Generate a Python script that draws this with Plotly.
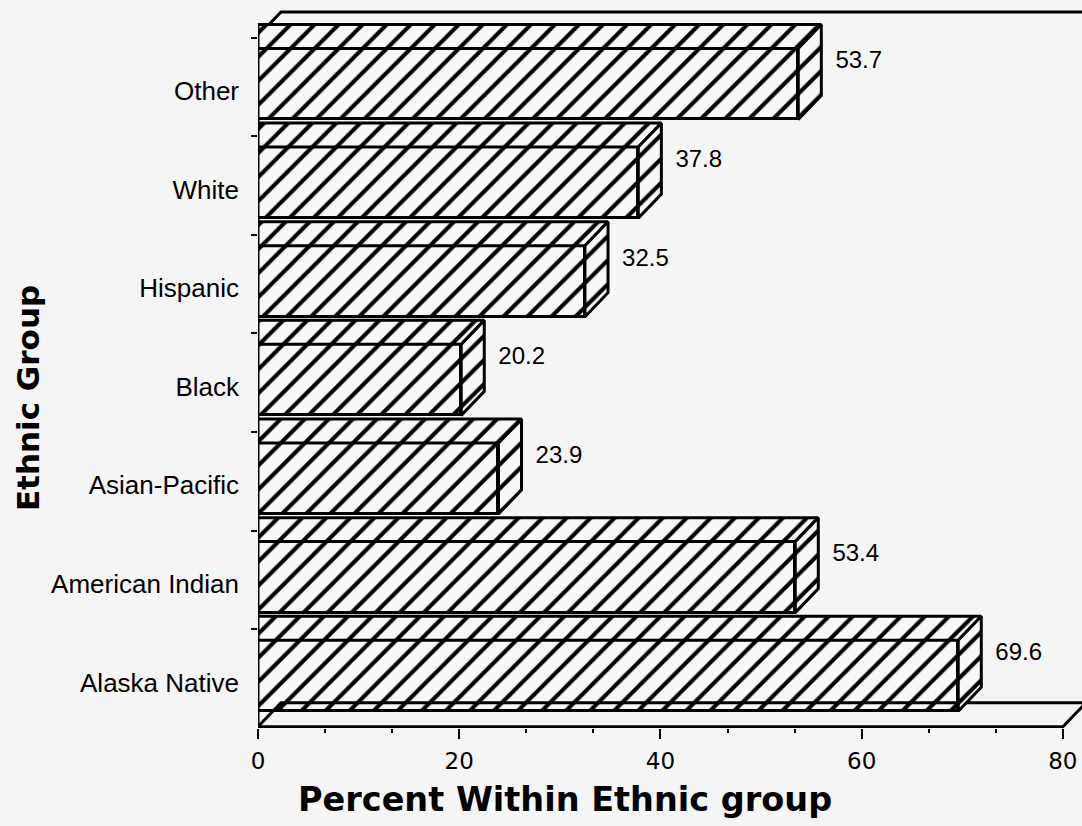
import plotly.graph_objects as go

# ---- data (bottom to top) ----
categories = ["Alaska Native", "American Indian", "Asian-Pacific", "Black",
              "Hispanic", "White", "Other"]
values = [69.6, 53.4, 23.9, 20.2, 32.5, 37.8, 53.7]
value_labels = ["69.6", "53.4", "23.9", "20.2", "32.5", "37.8", "53.7"]
x_ticks = [0, 20, 40, 60, 80]

# ---- styling / geometry ----
positions = list(range(len(categories)))
half = 0.36          # half bar thickness (category units)
dx = 2.29            # 3D depth, x (data units)
dy = 0.243           # 3D depth, y (category units)
y_floor = -0.517
y_top = 6.73
x_max = 81.9
paper_bg = "#f5f5f5"
face_bg = "#f8f8f8"
ink = "#000000"
pat = dict(shape="/", fgcolor=ink, fgopacity=1, bgcolor=face_bg, size=17, solidity=0.24)

fig = go.Figure()

# frame: left wall + top edge, floor
fig.add_trace(go.Scatter(
    x=[0, 0, dx, x_max + 5],
    y=[y_floor, y_top - dy, y_top, y_top],
    mode="lines", line=dict(color=ink, width=3),
    hoverinfo="skip", showlegend=False))
fig.add_trace(go.Scatter(
    x=[0, x_ticks[-1], x_ticks[-1] + dx, dx, 0],
    y=[y_floor, y_floor, y_floor + dy, y_floor + dy, y_floor],
    mode="lines", line=dict(color=ink, width=3),
    hoverinfo="skip", showlegend=False))

# 3D faces (top and side) for each bar, far (top) to near (bottom)
for p, v in sorted(zip(positions, values), reverse=True):
    top = p + half
    bot = p - half
    fig.add_trace(go.Scatter(
        x=[0, v, v + dx, 0, 0],
        y=[top, top, top + dy, top + dy, top],
        mode="lines", fill="toself", fillcolor=face_bg, fillpattern=pat,
        line=dict(color=ink, width=3), hoverinfo="skip", showlegend=False))
    fig.add_trace(go.Scatter(
        x=[v, v + dx, v + dx, v, v],
        y=[top, top + dy, bot + dy, bot, top],
        mode="lines", fill="toself", fillcolor=face_bg, fillpattern=pat,
        line=dict(color=ink, width=3), hoverinfo="skip", showlegend=False))

# value labels
fig.add_trace(go.Scatter(
    x=[v + dx + 1.4 for v in values],
    y=[p + 0.22 for p in positions],
    text=value_labels, mode="text", textposition="middle right",
    textfont=dict(family="Liberation Sans, Arial", size=24, color=ink),
    hoverinfo="skip", showlegend=False, cliponaxis=False))

# front faces
fig.add_trace(go.Bar(
    x=values, y=positions, orientation="h", width=2 * half,
    marker=dict(color=face_bg, line=dict(color=ink, width=3), pattern=pat),
    hoverinfo="skip", showlegend=False))

fig.update_layout(
    width=1082, height=826,
    margin=dict(l=258, r=0, t=9, b=98),
    paper_bgcolor=paper_bg, plot_bgcolor=paper_bg,
    bargap=0,
    xaxis=dict(
        range=[0, x_max], tickvals=x_ticks, ticktext=[str(t) for t in x_ticks],
        showgrid=False, zeroline=False, showline=False,
        ticks="outside", ticklen=10, tickwidth=2, tickcolor=ink,
        minor=dict(dtick=20 / 3, tick0=0, ticks="outside", ticklen=4,
                   tickwidth=2, tickcolor=ink, showgrid=False),
        tickfont=dict(family="DejaVu Sans", size=23, color=ink),
        ticklabelstandoff=2,
    ),
    yaxis=dict(
        range=[-0.53, 6.76],
        tickvals=[p - 0.07 for p in positions], ticktext=categories,
        showgrid=False, zeroline=False, showline=False, ticks="",
        minor=dict(tickmode="array", tickvals=[p + 0.47 for p in positions],
                   ticks="outside", ticklen=6, tickwidth=2, tickcolor=ink,
                   showgrid=False),
        tickfont=dict(family="Liberation Sans, Arial", size=26, color=ink),
        ticklabelstandoff=18,
    ),
    annotations=[
        dict(text="<b>Percent Within Ethnic group</b>", xref="paper", yref="paper",
             x=0.3726, y=-0.10, xanchor="center", yanchor="middle", showarrow=False,
             font=dict(family="DejaVu Sans", size=33.5, color=ink)),
        dict(text="<b>Ethnic Group</b>", xref="paper", yref="paper",
             x=-0.279, y=0.459, xanchor="center", yanchor="middle", showarrow=False,
             textangle=-90, font=dict(family="DejaVu Sans", size=31, color=ink)),
    ],
)

fig.write_html("out.html")
